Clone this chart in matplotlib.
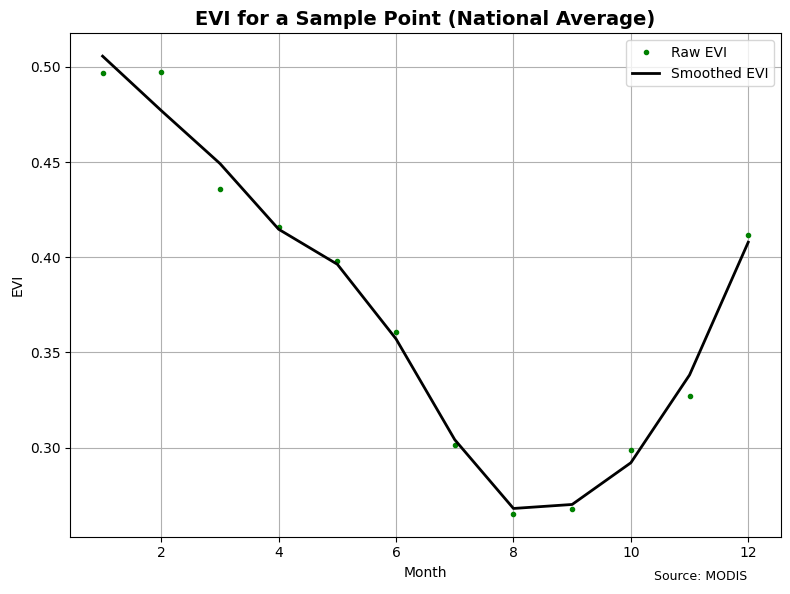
import matplotlib
matplotlib.use('Agg')
import matplotlib.pyplot as plt

months = [1, 2, 3, 4, 5, 6, 7, 8, 9, 10, 11, 12]
raw_evi = [0.4967, 0.4972, 0.4361, 0.4157, 0.3979, 0.3607,
           0.3016, 0.2653, 0.2679, 0.2990, 0.3272, 0.4115]
smoothed_evi = [0.5056, 0.4770, 0.4492, 0.4147, 0.3963, 0.3571,
                0.3042, 0.2681, 0.2702, 0.2921, 0.3382, 0.4079]

fig, ax = plt.subplots(figsize=(7.9, 5.94), dpi=100)
ax.plot(months, raw_evi, '.', color='green', label='Raw EVI')
ax.plot(months, smoothed_evi, color='black', lw=2, label='Smoothed EVI')
ax.set_title('EVI for a Sample Point (National Average)', fontsize=14, fontweight='bold')
ax.set_xlabel('Month')
ax.set_ylabel('EVI')
ax.grid(True)
ax.legend(loc='upper right')
fig.subplots_adjust(left=0.089, right=0.988, top=0.944, bottom=0.0965)
fig.text(0.946, 0.029, 'Source: MODIS', ha='right', va='center', fontsize=9)
fig.savefig('out.png')
